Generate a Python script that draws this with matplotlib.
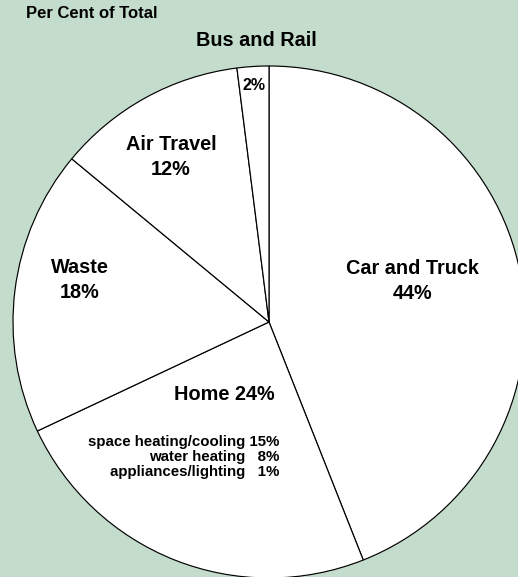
import matplotlib.pyplot as plt

# emission shares, clockwise from 12 o'clock
categories = ['Car and Truck', 'Home', 'Waste', 'Air Travel', 'Bus and Rail']
shares = [44, 24, 18, 12, 2]

# breakdown of the home slice
home_parts = ['space heating/cooling', 'water heating', 'appliances/lighting']
home_shares = [15, 8, 1]

bg = '#c4dccb'
W, H = 518, 577

plt.rcParams['font.family'] = ['Liberation Sans', 'DejaVu Sans']
plt.rcParams['font.weight'] = 'bold'

fig = plt.figure(figsize=(W / 100, H / 100), dpi=100, facecolor=bg)

# pie centre and radius in pixels
cx, cy, r = 269, 322, 256
ax = fig.add_axes([(cx - r) / W, (H - cy - r) / H, 2 * r / W, 2 * r / H])
ax.pie(shares, startangle=90, counterclock=False, colors=['white'] * len(shares),
       wedgeprops=dict(edgecolor='black', linewidth=0.85))
ax.set_xlim(-1, 1)
ax.set_ylim(-1, 1)
ax.axis('off')


def at(px, py):
    return px / W, 1 - py / H


def label(px, py, s, size=14.3, **kw):
    x, y = at(px, py)
    fig.text(x, y, s, fontsize=size, fontweight='bold', ha=kw.pop('ha', 'center'),
             va=kw.pop('va', 'center'), multialignment='center',
             linespacing=kw.pop('linespacing', 1.45), **kw)


label(26, 13, 'Per Cent of Total', size=12, ha='left')

car, home, waste, air, bus = shares
label(413, 281, f'{categories[0]}\n{car}%')
label(275, 395, f'{categories[1]} {home}%', ha='right')
label(80, 280, f'{categories[2]}\n{waste}%')
label(171, 157, f'{categories[3]}\n{air}%')
label(256, 41, categories[4])
label(254, 85, f'{bus}%', size=11.5)

# right-aligned home breakdown, digits lined up with padding
sub_lines = []
for name, v in zip(home_parts, home_shares):
    pad = ' ' if v >= 10 else '   '
    sub_lines.append(f'{name}{pad}{v}%')
x, y = at(279, 457)
fig.text(x, y, '\n'.join(sub_lines), fontsize=10.8, fontweight='bold',
         ha='right', va='center', multialignment='right', linespacing=1.07)

fig.savefig('out.png', dpi=100, facecolor=bg)
